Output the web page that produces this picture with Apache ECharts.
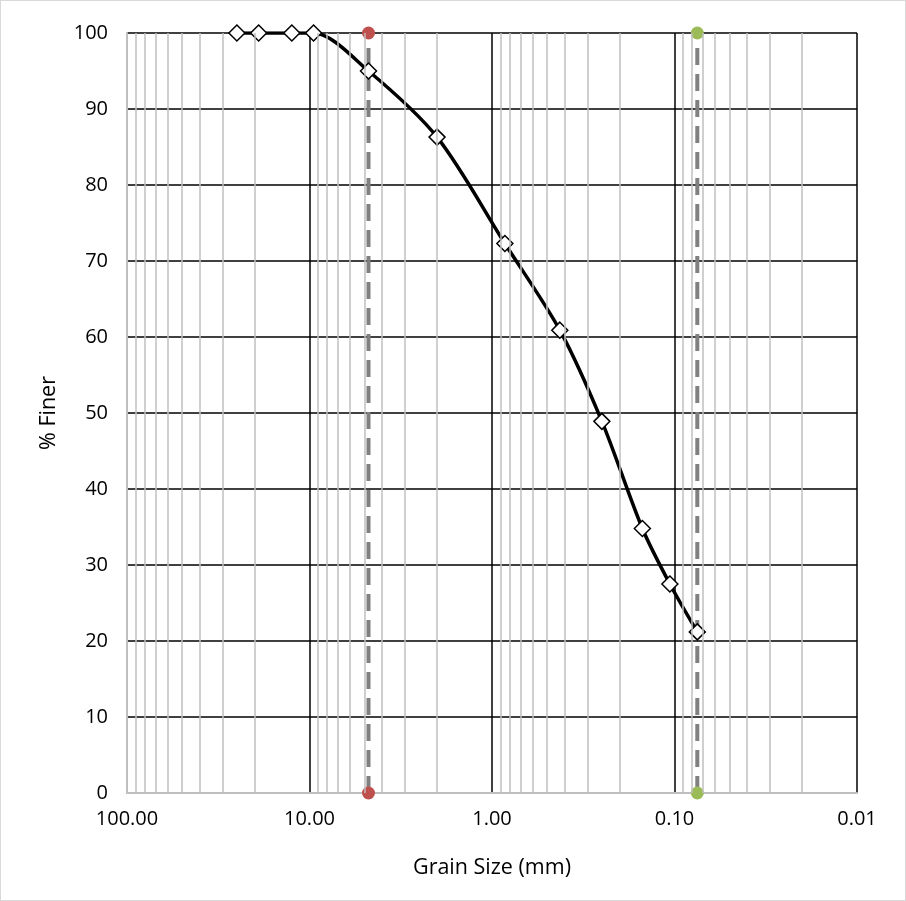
<!DOCTYPE html>
<html style="height: 100%">
<head>
	<meta charset="utf-8">
</head>
<body style="height: 100%; margin: 0">
	<div id="container" style="width: 904px; height: 899px; border: 1px solid #d9d9d9"></div>
	<script type="text/javascript" src="https://cdn.jsdelivr.net/npm/echarts@6/dist/echarts.min.js"></script>
	<script type="text/javascript">
		// sieve sizes (mm) and percent passing
		var grainSize = [25, 19, 12.5, 9.5, 4.75, 2.0, 0.85, 0.425, 0.25, 0.15, 0.106, 0.075];
		var percentFiner = [100, 100, 100, 100, 95, 86.3, 72.3, 60.9, 48.9, 34.8, 27.5, 21.2];
		// gravel/sand and sand/fines boundaries
		var limitSizes = [4.75, 0.075];
		var limitColors = ['#c0504d', '#9bbb59'];
		// minor log grid lines (2..9 in each decade)
		var minorTicks = [];
		[0.01, 0.1, 1, 10].forEach(function (d) {
			for (var k = 2; k <= 9; k++) minorTicks.push(+(d * k).toPrecision(3));
		});

		var dom = document.getElementById("container");
		var myChart = echarts.init(dom);
		var font = '"Open Sans", "Noto Sans", sans-serif';

		var series = [{
			type: 'line',
			z: -1,
			data: [],
			silent: true,
			markLine: {
				silent: true,
				symbol: 'none',
				label: { show: false },
				lineStyle: { color: '#bfbfbf', width: 1.5, type: 'solid' },
				data: minorTicks.map(function (v) { return { xAxis: v }; })
			}
		}];

		limitSizes.forEach(function (s, i) {
			series.push({
				type: 'line',
				data: [[s, 0], [s, 100]],
				symbol: 'circle',
				symbolSize: 13,
				itemStyle: { color: limitColors[i] },
				lineStyle: { color: '#808080', width: 4, type: [17, 9] },
				z: 3
			});
		});

		series.push({
			type: 'line',
			data: grainSize.map(function (g, i) { return [g, percentFiner[i]]; }),
			smooth: 0.3,
			symbol: 'diamond',
			symbolSize: 16,
			itemStyle: { color: '#ffffff', borderColor: '#000000', borderWidth: 1.5 },
			lineStyle: { color: '#000000', width: 3.5 },
			z: 4
		});

		var option = {
			animation: false,
			grid: { left: 126, right: 48, top: 32, bottom: 107 },
			xAxis: {
				type: 'log',
				logBase: 10,
				min: 0.01,
				max: 100,
				inverse: true,
				name: 'Grain Size (mm)',
				nameLocation: 'middle',
				nameGap: 64,
				nameTextStyle: { fontFamily: font, fontSize: 21.5, color: '#000' },
				axisLine: { show: true, lineStyle: { color: '#bfbfbf', width: 2 } },
				axisTick: { show: false },
				axisLabel: {
					fontFamily: font, fontSize: 20, color: '#000', margin: 16,
					formatter: function (v) { return Number(v).toFixed(2); }
				},
				splitLine: { show: true, lineStyle: { color: '#000', width: 1.5 } }
			},
			yAxis: {
				type: 'value',
				min: 0,
				max: 100,
				interval: 10,
				name: '% Finer',
				nameLocation: 'middle',
				nameRotate: 90,
				nameGap: 67,
				nameTextStyle: { fontFamily: font, fontSize: 21.5, color: '#000' },
				axisLine: { show: true, lineStyle: { color: '#bfbfbf', width: 2 } },
				axisTick: { show: false },
				axisLabel: { fontFamily: font, fontSize: 20, color: '#000', margin: 19 },
				splitLine: { show: true, lineStyle: { color: '#000', width: 1.5 } }
			},
			series: series
		};

		myChart.setOption(option);
	</script>
</body>
</html>
